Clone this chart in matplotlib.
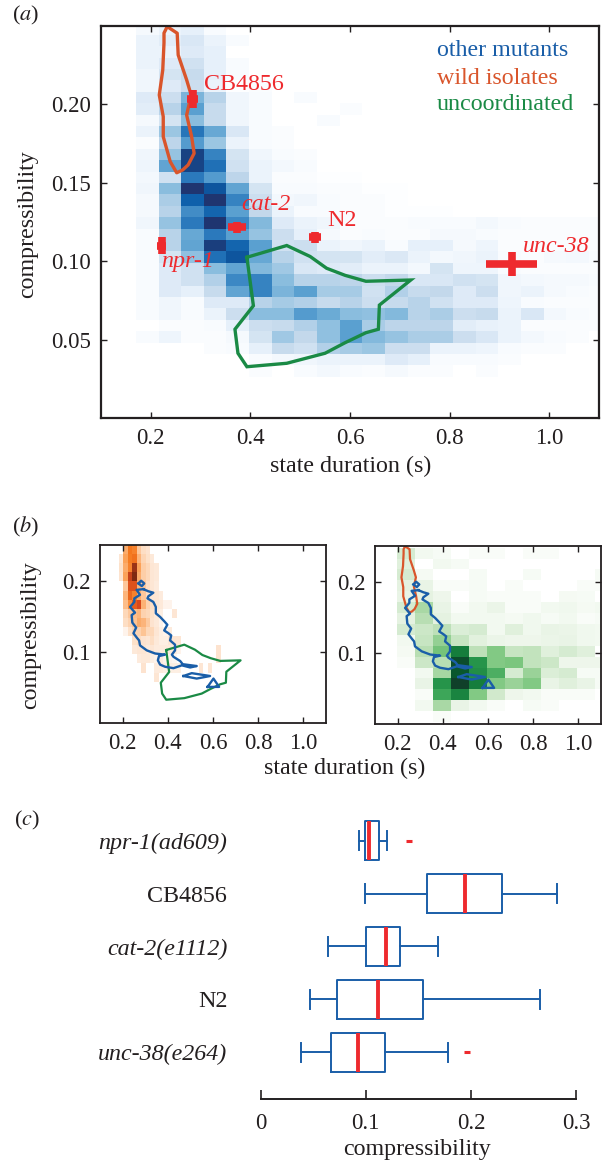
import numpy as np
import matplotlib
matplotlib.use("Agg")
import matplotlib.pyplot as plt
from matplotlib.colors import LinearSegmentedColormap

plt.rcParams["font.family"] = ["Liberation Serif", "DejaVu Serif"]
plt.rcParams["mathtext.fontset"] = "stix"

BLUE = "#1a5ea8"
ORANGE = "#d9552b"
GREEN = "#1a8a45"
RED = "#ee2a2e"
INK = "#231f20"

# 2d histograms, rows run from high compressibility to low, values are relative darkness 0-100
blue_density = [
    [4, 8, 10, 3],
    [8, 12, 16, 8, 3],
    [8, 8, 14, 10],
    [8, 14, 20, 10, 3],
    [6, 18, 24, 10, 3],
    [6, 14, 22, 8, 1, 2],
    [14, 22, 50, 30, 6, 3, 0, 3],
    [12, 30, 60, 24, 6, 3, 0, 0, 0, 2],
    [4, 18, 46, 24, 6, 3, 0, 0, 3],
    [8, 40, 78, 56, 16, 3, 2],
    [2, 28, 62, 40, 8, 3, 2],
    [6, 42, 96, 72, 18, 6, 3, 2],
    [7, 58, 95, 80, 20, 8, 5, 3],
    [5, 20, 76, 62, 28, 8, 2, 2, 1, 1],
    [6, 46, 100, 90, 58, 18, 3, 3, 2, 2, 1, 1],
    [4, 34, 86, 100, 72, 22, 5, 6, 3, 2, 2, 1],
    [4, 30, 68, 84, 60, 26, 8, 3, 3, 2, 2, 1, 1, 1],
    [6, 42, 76, 100, 70, 48, 14, 8, 6, 2, 2, 2, 3, 3, 3, 5, 3, 2, 2, 2, 2],
    [3, 30, 56, 76, 60, 42, 22, 10, 4, 2, 3, 2, 2, 4, 4, 3, 2, 2, 2, 2, 2],
    [3, 30, 58, 97, 84, 60, 20, 22, 8, 6, 8, 3, 10, 10, 4, 7, 2, 2, 2, 2, 2],
    [3, 18, 44, 80, 90, 56, 30, 20, 18, 18, 12, 15, 8, 5, 6, 8, 3, 2, 4, 5, 3],
    [3, 14, 20, 46, 58, 48, 38, 16, 14, 12, 8, 8, 5, 18, 7, 7, 3, 2, 2, 2, 2],
    [3, 14, 20, 32, 70, 72, 46, 30, 30, 28, 22, 26, 16, 16, 20, 18, 6, 5, 4, 4, 3],
    [3, 14, 10, 24, 58, 72, 50, 60, 36, 36, 20, 32, 24, 26, 14, 22, 6, 8, 4, 3, 2],
    [3, 6, 3, 14, 14, 30, 36, 32, 24, 30, 22, 24, 30, 20, 14, 14, 7, 3, 2, 2, 2],
    [3, 6, 3, 8, 22, 46, 46, 62, 55, 46, 44, 48, 30, 34, 22, 24, 8, 16, 5, 3, 2],
    [0, 2, 2, 3, 10, 22, 24, 32, 44, 60, 35, 28, 28, 28, 12, 9, 8, 2, 2, 2, 2],
    [3, 7, 2, 2, 4, 18, 38, 26, 44, 60, 48, 42, 34, 34, 22, 16, 8, 5, 3, 2],
    [0, 0, 0, 2, 3, 10, 24, 20, 32, 36, 40, 22, 22, 8, 8, 7, 3, 2, 2],
    [0, 0, 0, 0, 0, 3, 5, 6, 8, 8, 8, 14, 10, 3, 3, 3, 2],
    [0, 0, 0, 0, 0, 2, 0, 3, 5, 3, 2, 4, 2, 2, 0, 2],
]

orange_density = [
    [0, 45, 70, 65, 30, 14, 10],
    [8, 50, 68, 72, 40, 20, 12, 6],
    [12, 45, 65, 95, 50, 25, 18, 8, 6],
    [10, 50, 88, 100, 45, 25, 18, 8, 6],
    [0, 30, 82, 82, 40, 30, 14, 8, 5],
    [0, 40, 75, 65, 45, 30, 14, 8, 8, 5],
    [0, 35, 60, 78, 85, 42, 22, 14, 8, 6, 3, 3],
    [0, 18, 30, 35, 40, 22, 18, 12, 6, 4, 0, 0, 8],
    [0, 14, 22, 32, 45, 40, 28, 10, 6, 3],
    [0, 3, 12, 20, 22, 32, 18, 18, 8, 4, 3, 5],
    [0, 0, 0, 12, 15, 10, 8, 14, 6, 4, 4, 8, 8, 8],
    [0, 0, 0, 6, 8, 8, 5, 8, 5, 5, 5, 5, 5, 3, 0, 0, 0, 0, 0, 0, 0, 0, 10],
    [0, 0, 0, 0, 5, 6, 6, 4, 3, 5, 3, 3, 2, 0, 0, 0, 0, 0, 0, 0, 0, 0, 10],
    [0, 0, 0, 0, 0, 10, 0, 0, 5, 5, 4, 4, 4, 4, 0, 0, 0, 0, 8, 0, 8],
    [0, 0, 0, 0, 0, 0, 0, 0, 8],
]

green_density = [
    [18, 6, 4, 0, 3, 3, 0, 3, 3, 0, 0, 0],
    [14, 0, 6, 4, 0, 0, 0, 0, 0, 0, 0, 0],
    [18, 5, 0, 0, 4, 0, 0, 4, 0, 0, 0, 4],
    [12, 10, 3, 3, 4, 0, 3, 0, 0, 0, 3, 3],
    [10, 12, 8, 0, 4, 3, 3, 3, 0, 5, 4, 0],
    [18, 35, 10, 3, 6, 9, 3, 3, 6, 7, 5, 6],
    [12, 30, 12, 6, 6, 6, 5, 7, 4, 6, 3, 4],
    [18, 22, 28, 16, 18, 6, 14, 7, 10, 9, 7, 6],
    [6, 24, 42, 24, 13, 9, 8, 8, 9, 10, 7, 6],
    [5, 30, 52, 85, 28, 48, 24, 26, 14, 18, 14, 0],
    [3, 22, 30, 97, 78, 48, 50, 26, 22, 8, 8, 8],
    [0, 6, 36, 95, 80, 65, 18, 40, 16, 18, 4, 4],
    [0, 10, 78, 100, 85, 48, 40, 48, 10, 14, 10, 4],
    [0, 3, 70, 83, 48, 20, 8, 6, 3, 3, 3, 0],
    [0, 6, 35, 10, 6, 3, 0, 4, 3, 0, 0, 0],
    [0, 0, 3, 0, 0, 0, 0, 0, 0, 0, 0, 0],
]

# contours
wild_x = [0.233, 0.253, 0.255, 0.272, 0.281, 0.272, 0.282, 0.287, 0.275, 0.264, 0.252,
          0.239, 0.225, 0.225, 0.217, 0.224, 0.2265, 0.2265, 0.233]
wild_y = [0.2496, 0.2454, 0.2315, 0.2156, 0.206, 0.1932, 0.1794, 0.1688, 0.1614, 0.1582, 0.1564,
          0.1635, 0.1794, 0.1922, 0.206, 0.2219, 0.2392, 0.2455, 0.2496]

unc_x = [0.393, 0.473, 0.520, 0.553, 0.590, 0.632, 0.722, 0.659, 0.657, 0.632, 0.590,
         0.550, 0.473, 0.393, 0.375, 0.369, 0.406, 0.393]
unc_y = [0.1025, 0.110, 0.103, 0.0955, 0.091, 0.0872, 0.088, 0.072, 0.0566, 0.0544, 0.048,
         0.0413, 0.0349, 0.0327, 0.0413, 0.0566, 0.0716, 0.1025]

mut_x = [0.292, 0.314, 0.336, 0.314, 0.310, 0.336, 0.347, 0.347, 0.366, 0.384, 0.398, 0.384,
         0.403, 0.415, 0.410, 0.432, 0.432, 0.418, 0.425, 0.455, 0.466, 0.528, 0.499, 0.462,
         0.425, 0.388, 0.366, 0.356, 0.361, 0.388, 0.344, 0.307, 0.277, 0.273, 0.265, 0.248,
         0.260, 0.243, 0.240, 0.255, 0.233, 0.252, 0.252, 0.277, 0.262, 0.292]
mut_y = [0.188, 0.185, 0.183, 0.178, 0.175, 0.170, 0.163, 0.154, 0.149, 0.143, 0.138, 0.130,
         0.126, 0.123, 0.116, 0.110, 0.102, 0.096, 0.093, 0.087, 0.0826, 0.080, 0.078, 0.081,
         0.077, 0.079, 0.082, 0.088, 0.094, 0.096, 0.0976, 0.102, 0.109, 0.116, 0.119, 0.126,
         0.134, 0.141, 0.1515, 0.155, 0.163, 0.170, 0.175, 0.180, 0.187, 0.188]
mut_loops_x = [[0.270, 0.282, 0.296, 0.285, 0.270],
               [0.469, 0.506, 0.587, 0.528, 0.469],
               [0.576, 0.602, 0.627, 0.576]]
mut_loops_y = [[0.196, 0.1998, 0.196, 0.1923, 0.196],
               [0.066, 0.070, 0.066, 0.0624, 0.066],
               [0.0507, 0.0624, 0.0507, 0.0507]]

# strain means with errors in panel a
strains = ["CB4856", "cat-2", "N2", "npr-1", "unc-38"]
strain_x = [0.284, 0.373, 0.530, 0.2215, 0.925]
strain_y = [0.2034, 0.1215, 0.1152, 0.110, 0.0984]
strain_xerr = [0.011, 0.0175, 0.0117, 0.0085, 0.0515]
strain_yerr = [0.0058, 0.0037, 0.0034, 0.0055, 0.0077]

# boxes in panel c
box_labels = ["unc-38(e264)", "N2", "cat-2(e1112)", "CB4856", "npr-1(ad609)"]
box_italic = [True, False, True, False, True]
whisker_lo = [0.0384, 0.0473, 0.0641, 0.099, 0.0939]
q1 = [0.0672, 0.0723, 0.1005, 0.1583, 0.099]
medians = [0.0926, 0.1113, 0.1192, 0.1941, 0.103]
q3 = [0.1186, 0.1545, 0.1322, 0.2296, 0.1129]
whisker_hi = [0.1782, 0.2661, 0.1684, 0.2823, 0.1202]
outliers = [[0.1963], [], [], [], [0.1411]]

blue_cmap = LinearSegmentedColormap.from_list("b", [(0, "#ffffff"), (0.1, "#e6f0fa"), (0.25, "#c5d9ec"),
                                                    (0.45, "#8dbfdf"), (0.6, "#5aa0d0"), (0.75, "#2e7cbe"),
                                                    (0.88, "#0a5ca8"), (1, "#1f3570")])
orange_cmap = LinearSegmentedColormap.from_list("o", [(0, "#ffffff"), (0.05, "#fdeadb"), (0.3, "#fdc79a"),
                                                      (0.5, "#fba25a"), (0.7, "#f4781e"), (0.85, "#d9481c"),
                                                      (1, "#7f2a12")])
green_cmap = LinearSegmentedColormap.from_list("g", [(0, "#ffffff"), (0.1, "#e9f4e6"), (0.3, "#b8deb2"),
                                                     (0.5, "#7cc67e"), (0.75, "#2e9e50"), (0.92, "#04672f"),
                                                     (1, "#10402a")])

W, H = 606, 1160
fig = plt.figure(figsize=(W / 100, H / 100), dpi=100)


def axes_px(left, top, right, bottom):
    return fig.add_axes([left / W, 1 - bottom / H, (right - left) / W, (bottom - top) / H])


def label_px(x, y, s, **kw):
    kw.setdefault("color", INK)
    kw.setdefault("fontsize", 17.3)
    kw.setdefault("ha", "center")
    kw.setdefault("va", "center")
    fig.text(x / W, 1 - y / H, s, **kw)


def draw_density(ax, rows, cmap, x0, dx, y0, dy):
    ncols = max(len(r) for r in rows)
    grid = np.array([r + [0] * (ncols - len(r)) for r in rows], dtype=float)
    xe = x0 + dx * np.arange(ncols + 1)
    ye = y0 - dy * np.arange(len(rows) + 1)
    ax.pcolormesh(xe, ye, grid, cmap=cmap, vmin=0, vmax=100, edgecolors="none", antialiased=False)


def style_frame(ax, yticks, yfmt, lw=1.4):
    ax.set_xlim(0.1, 1.1)
    ax.set_ylim(0, 0.25)
    ax.set_xticks([0.2, 0.4, 0.6, 0.8, 1.0])
    ax.set_xticklabels(["0.2", "0.4", "0.6", "0.8", "1.0"])
    ax.set_yticks(yticks)
    ax.set_yticklabels([yfmt % t for t in yticks])
    ax.tick_params(direction="in", top=True, right=True, length=4, width=1, labelsize=16.5,
                   colors=INK, pad=7)
    for s in ax.spines.values():
        s.set_linewidth(lw)
        s.set_color(INK)


# panel a
ax_a = axes_px(101, 26, 599, 418)
draw_density(ax_a, blue_density, blue_cmap, 0.17, 0.0455, 0.2516, 0.00727)
ax_a.plot(unc_x, unc_y, color=GREEN, lw=2.4, solid_joinstyle="miter")
ax_a.plot(wild_x, wild_y, color=ORANGE, lw=2.4)
for i in range(len(strains)):
    ax_a.errorbar(strain_x[i], strain_y[i], xerr=strain_xerr[i], yerr=strain_yerr[i],
                  color=RED, elinewidth=5.5, capsize=0, fmt="none")
style_frame(ax_a, [0.05, 0.10, 0.15, 0.20], "%.2f", lw=1.6)

label_px(244, 84, "CB4856", color=RED)
label_px(266, 204, "cat-2", color=RED, style="italic")
label_px(342, 221, "N2", color=RED)
label_px(188, 261, "npr-1", color=RED, style="italic")
label_px(556, 246, "unc-38", color=RED, style="italic")
label_px(437, 50, "other mutants", color=BLUE, ha="left")
label_px(437, 78, "wild isolates", color=ORANGE, ha="left")
label_px(437, 105, "uncoordinated", color=GREEN, ha="left")
label_px(351, 466, "state duration (s)")
label_px(28, 224, "compressibility", rotation=90)
label_px(26, 15, r"($\mathit{a}$)", fontsize=16)

# panel b
ax_b1 = axes_px(100, 545, 326, 723)
draw_density(ax_b1, orange_density, orange_cmap, 0.184, 0.0196, 0.25, 0.0128)
ax_b1.plot(unc_x, unc_y, color=GREEN, lw=1.6)
ax_b1.plot(mut_x, mut_y, color=BLUE, lw=1.7)
for lx, ly in zip(mut_loops_x, mut_loops_y):
    ax_b1.plot(lx, ly, color=BLUE, lw=1.7)
style_frame(ax_b1, [0.1, 0.2], "%.1f", lw=1.3)

ax_b2 = axes_px(375, 546, 601, 724)
draw_density(ax_b2, green_density, green_cmap, 0.196, 0.0797, 0.2476, 0.0153)
ax_b2.plot(wild_x, wild_y, color=ORANGE, lw=1.6)
ax_b2.plot(mut_x, mut_y, color=BLUE, lw=1.7)
for lx, ly in zip(mut_loops_x, mut_loops_y):
    ax_b2.plot(lx, ly, color=BLUE, lw=1.7)
style_frame(ax_b2, [0.1, 0.2], "%.1f", lw=1.3)

label_px(345, 768, "state duration (s)")
label_px(31, 635, "compressibility", rotation=90)
label_px(26, 527, r"($\mathit{b}$)", fontsize=16)

# panel c
ax_c = axes_px(260.7, 815, 576, 1099.3)
stats = []
for i in range(len(box_labels)):
    stats.append({"whislo": whisker_lo[i], "q1": q1[i], "med": medians[i], "q3": q3[i],
                  "whishi": whisker_hi[i], "fliers": outliers[i], "label": box_labels[i]})
ax_c.bxp(stats, orientation="horizontal", widths=0.74, patch_artist=False,
         boxprops=dict(color=BLUE, lw=1.4),
         whiskerprops=dict(color=BLUE, lw=1.4),
         capprops=dict(color=BLUE, lw=1.4),
         capwidths=0.36,
         medianprops=dict(color=RED, lw=2.8, solid_capstyle="butt"),
         flierprops=dict(marker="_", markeredgecolor=RED, markeredgewidth=2.2, markersize=3.8))
ax_c.set_xlim(0, 0.3)
ax_c.set_ylim(0.111, 5.486)
ax_c.set_xticks([0, 0.1, 0.2, 0.3])
ax_c.set_xticklabels(["0", "0.1", "0.2", "0.3"])
ax_c.tick_params(axis="x", direction="in", length=6.5, width=1.2, labelsize=16.5, colors=INK, pad=10)
ax_c.tick_params(axis="y", length=0, pad=24, labelsize=17.3, colors=INK)
for lab, it in zip(ax_c.get_yticklabels(), box_italic):
    lab.set_style("italic" if it else "normal")
for side in ["top", "left", "right"]:
    ax_c.spines[side].set_visible(False)
ax_c.spines["bottom"].set_linewidth(1.4)
ax_c.spines["bottom"].set_color(INK)

label_px(417, 1149, "compressibility")
label_px(27, 820, r"($\mathit{c}$)", fontsize=16)

fig.savefig("out.png", dpi=100)
